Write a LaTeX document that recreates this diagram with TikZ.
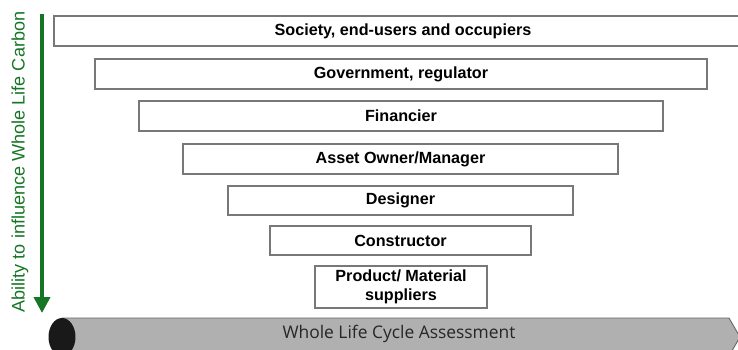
\documentclass[tikz,border=0pt]{standalone}
\usepackage{fontspec}
\setmainfont{Liberation Sans}
\newfontfamily\barfont{Open Sans}
\usetikzlibrary{arrows.meta}

\definecolor{boxline}{RGB}{120,120,120}
\definecolor{arrowgreen}{RGB}{22,118,38}
\definecolor{bargray}{RGB}{176,176,176}

\begin{document}
\begin{tikzpicture}[x=0.02cm,y=-0.02cm]
    \useasboundingbox (0,0) rectangle (738,349);
    \begin{scope}[every node/.style={rectangle, draw=boxline, line width=1.1pt, fill=white, inner sep=0pt, align=center, minimum height=0.6cm, font=\fontsize{9.2}{10.5}\selectfont\bfseries}]
        \node[minimum width=13.96cm] (S) at (403,31) {Society, end-users and occupiers};
        \node[minimum width=12.24cm] (G) at (401,74) {Government, regulator};
        \node[minimum width=10.48cm] (F) at (401,116) {Financier};
        \node[minimum width=8.7cm] (A) at (400.5,159) {Asset Owner/Manager};
        \node[minimum width=6.9cm, minimum height=0.58cm] (D) at (400.5,200.5) {Designer};
        \node[minimum width=5.22cm, minimum height=0.58cm] (C) at (400.5,240.5) {Constructor};
        \node[minimum width=3.44cm, minimum height=0.84cm] (P) at (401,287) {Product/ Material\\suppliers};
    \end{scope}
    % influence arrow
    \coordinate (top) at (42,14);
    \coordinate (bot) at (42,313);
    \draw[arrowgreen, line width=2.2pt, -{Triangle[length=9pt,width=9pt]}] (top) -- (bot);
    \node[rotate=90, text=arrowgreen, font=\fontsize{10.3}{12}\selectfont] (L) at (20,162) {Ability to influence Whole Life Carbon};
    % life cycle bar
    \draw[fill=bargray, draw=black!60, line width=0.5pt] (62,318) -- (729,318) -- (740,337) -- (729,356) -- (62,356) -- cycle;
    \fill[black!90] (62,337) ellipse [x radius=0.27cm, y radius=0.38cm];
    \node[font=\barfont\fontsize{9.9}{12}\selectfont, text=black!85] (W) at (399,334) {Whole Life Cycle Assessment};
\end{tikzpicture}
\end{document}
